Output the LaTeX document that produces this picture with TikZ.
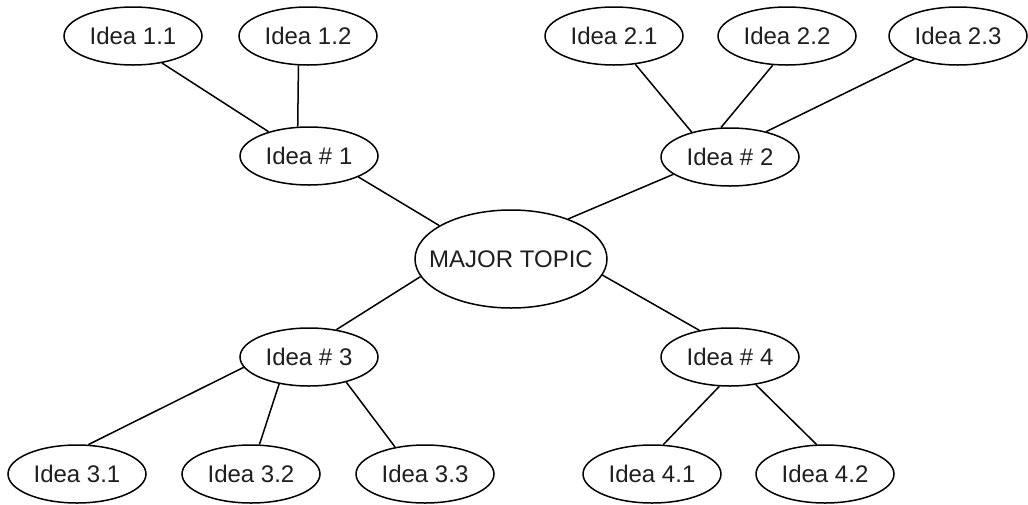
\documentclass[tikz,border=0pt]{standalone}
\usepackage{fontspec}
\setmainfont{Liberation Sans}
\usetikzlibrary{shapes.geometric}
\tikzset{
  idea/.style={ellipse, draw, line width=1.5pt, minimum width=138pt, minimum height=58pt, inner sep=0pt, font=\fontsize{24}{28}\selectfont, text=black!88},
  major/.style={idea, minimum width=192pt, minimum height=98pt},
  link/.style={line width=1.5pt}
}
\begin{document}
\begin{tikzpicture}[x=1pt,y=-1pt]
\useasboundingbox[fill=white] (0,0) rectangle (1028,504);
\node[idea] (n11) at (133,36) {Idea 1.1};
\node[idea] (n12) at (308,36) {Idea 1.2};
\node[idea] (n1) at (309,156) {Idea \# 1};
\node[idea] (n21) at (614,36) {Idea 2.1};
\node[idea] (n22) at (787,36) {Idea 2.2};
\node[idea] (n23) at (958,36) {Idea 2.3};
\node[idea] (n2) at (730,157) {Idea \# 2};
\node[major] (M) at (511,259) {\makebox[0pt]{MAJOR TOPIC}};
\node[idea] (n3) at (309,357) {Idea \# 3};
\node[idea] (n31) at (77,474) {Idea 3.1};
\node[idea] (n32) at (251,474) {Idea 3.2};
\node[idea] (n33) at (425,474) {Idea 3.3};
\node[idea] (n4) at (730,357) {Idea \# 4};
\node[idea] (n41) at (652,474) {Idea 4.1};
\node[idea] (n42) at (825,474) {Idea 4.2};
\draw[link] (n11.-43) -- (n1.149);
\draw[link] (n12.-108) -- (n1.111);
\draw[link] (n1.-23) -- (M.155);
\draw[link] (n21.-53) -- (n2.147);
\draw[link] (n22.-116) -- (n2.107);
\draw[link] (n23.-152) -- (n2.35);
\draw[link] (n2.-163) -- (M.35);
\draw[link] (M.-169) -- (n3.45);
\draw[link] (n3.-171) -- (n31.69);
\draw[link] (n3.-138) -- (n32.74);
\draw[link] (n3.-34) -- (n33.138);
\draw[link] (M.-10) -- (n4.139);
\draw[link] (n4.-110) -- (n41.69);
\draw[link] (n4.-47) -- (n42.106);
\end{tikzpicture}
\end{document}
